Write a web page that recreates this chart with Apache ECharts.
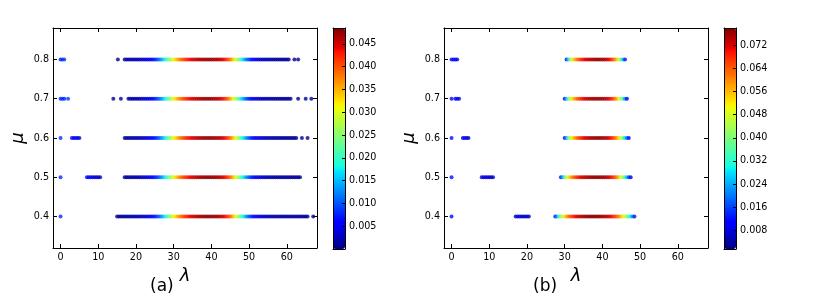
<!DOCTYPE html>
<html><head><meta charset="utf-8">
<script src="https://cdn.jsdelivr.net/npm/echarts@6/dist/echarts.min.js"></script>
<style>html,body{margin:0;padding:0;background:#fff}#c{width:817px;height:296px}</style>
</head><body><div id="c"></div><script>
// ---- tick labels ----
const LAMBDA_TICKS = [0, 10, 20, 30, 40, 50, 60];
const MU_TICKS = [0.4, 0.5, 0.6, 0.7, 0.8];
// colour-bar ticks, values in units of 1e-3
const CBAR_A_TICKS = [5, 10, 15, 20, 25, 30, 35, 40, 45];
const CBAR_B_TICKS = [8, 16, 24, 32, 40, 48, 56, 64, 72];
const CBAR_A_RANGE = [0, 48.5];
const CBAR_B_RANGE = [1.5, 78];
const STEP = 0.5; // lambda spacing of dense bands

// ---- panel (a) data: values in units of 1e-3 ----
const A_MU = [0.8, 0.7, 0.6, 0.5, 0.4];
const A_BAND_START = [17, 18, 17, 17, 15];
const A_BAND_08 = [1.3,1.4,1.5,1.6,1.8,1.9,2.1,2.3,2.5,2.8,3.1,3.5,4,4.6,5.3,6.2,7.3,8.6,10.2,12,14.2,16.6,19.3,22.2,25.2,28,30.6,33,35,36.8,38.4,39.8,41,42.1,43,43.8,44.5,45.1,45.6,46,46.4,46.7,46.9,47.1,47.2,47.2,47.2,47.1,46.9,46.6,46.2,45.6,44.8,43.7,42.3,40.6,38.5,36,33.1,29.9,26.5,23,19.6,16.4,13.6,11.2,9.2,7.6,6.3,5.3,4.5,3.9,3.4,3,2.7,2.4,2.2,2,1.8,1.7,1.6,1.5,1.4,1.3,1.2,1.2,1.1,1.1];
const A_BAND_07 = [1.5,1.6,1.8,1.9,2.1,2.3,2.5,2.8,3.1,3.5,4,4.6,5.3,6.1,7.1,8.3,9.8,11.6,13.7,16.1,18.8,21.7,24.7,27.6,30.3,32.8,34.9,36.8,38.4,39.8,41,42.1,43,43.8,44.5,45.1,45.6,46,46.4,46.7,47,47.2,47.3,47.3,47.2,47,46.7,46.3,45.7,44.9,43.9,42.6,40.9,38.9,36.4,33.6,30.4,27,23.5,20.1,16.9,14,11.5,9.5,7.8,6.5,5.4,4.6,3.9,3.4,3,2.7,2.4,2.2,2,1.8,1.7,1.6,1.5,1.4,1.3,1.2,1.2,1.1,1.1,1,1];
const A_BAND_06 = [1.2,1.3,1.4,1.5,1.7,1.8,2,2.2,2.4,2.7,3,3.4,3.9,4.5,5.2,6,7,8.2,9.7,11.5,13.6,16,18.7,21.6,24.6,27.5,30.2,32.7,34.9,36.8,38.5,39.9,41.1,42.2,43.1,43.9,44.6,45.2,45.7,46.1,46.5,46.8,47.1,47.3,47.4,47.4,47.3,47.2,47,46.7,46.3,45.7,44.9,43.9,42.6,41,39,36.6,33.8,30.7,27.4,24,20.7,17.6,14.8,12.3,10.2,8.4,7,5.9,5,4.3,3.7,3.3,2.9,2.6,2.4,2.2,2,1.9,1.8,1.7,1.6,1.5,1.4,1.3,1.3,1.2,1.2,1.1,1.1,1];
const A_BAND_05 = [1.1,1.2,1.3,1.4,1.6,1.7,1.9,2.1,2.3,2.6,2.9,3.3,3.8,4.4,5.1,5.9,6.9,8.1,9.6,11.4,13.5,15.9,18.6,21.5,24.5,27.4,30.1,32.6,34.8,36.7,38.4,39.9,41.1,42.2,43.1,43.9,44.6,45.2,45.8,46.3,46.7,47,47.3,47.5,47.6,47.6,47.5,47.4,47.2,46.9,46.5,45.9,45.1,44.1,42.8,41.2,39.2,36.8,34,30.9,27.6,24.2,20.9,17.8,15,12.5,10.4,8.6,7.2,6,5.1,4.4,3.8,3.3,2.9,2.6,2.4,2.2,2,1.9,1.8,1.7,1.6,1.5,1.4,1.4,1.3,1.3,1.2,1.2,1.1,1.1,1,1];
const A_BAND_04 = [0.9,1,1,1.1,1.2,1.3,1.4,1.5,1.6,1.8,2,2.2,2.4,2.7,3,3.4,3.9,4.5,5.2,6,7,8.2,9.7,11.5,13.6,16,18.7,21.6,24.6,27.5,30.2,32.7,34.9,36.8,38.5,40,41.3,42.4,43.3,44.1,44.8,45.4,45.9,46.4,46.8,47.1,47.4,47.6,47.7,47.7,47.6,47.5,47.3,47,46.6,46,45.2,44.2,42.9,41.3,39.3,36.9,34.1,31,27.7,24.3,21,17.9,15.1,12.6,10.5,8.7,7.3,6.1,5.2,4.5,3.9,3.4,3,2.7,2.4,2.2,2,1.9,1.8,1.7,1.6,1.5,1.4,1.4,1.3,1.3,1.2,1.2,1.1,1.1,1.1,1,1,1,0.9,0.9];
// isolated points [lambda, value]
const A_DOTS_08 = [[0,8],[0.5,8],[1,9],[15.2,1],[62,1],[63,1]];
const A_DOTS_07 = [[0,8],[0.5,8],[1,8],[2,9],[14,0.9],[16,1.1],[63,1],[65,0.9],[66.5,0.9]];
const A_DOTS_06 = [[0,8],[3,6],[3.5,5.5],[4,5],[4.5,4],[5,3.5],[64,1],[65.5,0.9]];
const A_DOTS_05 = [[0,8],[7,6],[7.5,5.5],[8,5],[8.5,4.5],[9,4],[9.5,3.5],[10,3.5],[10.5,3]];
const A_DOTS_04 = [[0,8],[67,0.9]];

// ---- panel (b) data: values in units of 1e-3 ----
const B_MU = [0.8, 0.7, 0.6, 0.5, 0.4];
const B_BAND_START = [30.5, 30, 30, 29, 27.5];
const B_BAND_08 = [12,28,40,49,55,59,62.5,65.5,68,70,71.5,72.8,73.8,74.6,75.2,75.6,75.9,76,75.9,75.6,75,74,72.5,70.5,68,64.5,60,54,46,36,25,13];
const B_BAND_07 = [11,25,37,46,52.5,57,61,64,66.5,68.8,70.6,72,73.2,74.2,75,75.6,76,76.2,76.2,76,75.6,75,74,72.6,70.8,68.5,65.5,61.5,56.5,50,42,32.5,22,11];
const B_BAND_06 = [11,24,36,45,51.5,56.5,60.5,63.8,66.5,68.8,70.7,72.2,73.4,74.4,75.2,75.8,76.2,76.4,76.4,76.2,75.8,75.2,74.3,73,71.2,69,66,62.5,58,52.5,45.5,37,28,19,10];
const B_BAND_05 = [12,24,35,44,51,56,60,63.3,66,68.3,70.2,71.8,73,74,74.9,75.6,76.1,76.5,76.7,76.8,76.7,76.5,76.1,75.5,74.6,73.4,71.8,69.8,67.2,64,60,55,49,42,34,25.5,17,9];
const B_BAND_04 = [12,22,32,40.5,47.5,53,57.5,61.2,64.3,66.8,69,70.8,72.3,73.5,74.5,75.3,76,76.5,76.9,77.2,77.3,77.3,77.2,77,76.6,76.1,75.4,74.5,73.4,72,70.3,68.3,66,63.2,60,56.3,52,47,41.5,35.5,29,21.5,13];
const B_DOTS_08 = [[0,12],[0.5,11],[1,10],[1.5,9]];
const B_DOTS_07 = [[0,12],[1,10],[1.5,9],[2,9]];
const B_DOTS_06 = [[0,12],[3,8],[3.5,8],[4,7.5],[4.5,7]];
const B_DOTS_05 = [[0,12],[8,8],[8.5,8],[9,7.5],[9.5,7],[10,7],[10.5,6.5],[11,6]];
const B_DOTS_04 = [[0,12],[17,8],[17.5,7.5],[18,7],[18.5,7],[19,6.5],[19.5,6.5],[20,6],[20.5,6]];

// ---- build series data ----
function band(mu, start, vals) { return vals.map((v, i) => [start + i * STEP, mu, v]); }
function dots(mu, pts) { return pts.map(p => [p[0], mu, p[1]]); }
const A_BANDS = [A_BAND_08, A_BAND_07, A_BAND_06, A_BAND_05, A_BAND_04];
const A_DOTS = [A_DOTS_08, A_DOTS_07, A_DOTS_06, A_DOTS_05, A_DOTS_04];
const B_BANDS = [B_BAND_08, B_BAND_07, B_BAND_06, B_BAND_05, B_BAND_04];
const B_DOTS = [B_DOTS_08, B_DOTS_07, B_DOTS_06, B_DOTS_05, B_DOTS_04];
let dataA = [], dataB = [];
A_MU.forEach((mu, k) => { dataA = dataA.concat(dots(mu, A_DOTS[k]), band(mu, A_BAND_START[k], A_BANDS[k])); });
B_MU.forEach((mu, k) => { dataB = dataB.concat(dots(mu, B_DOTS[k]), band(mu, B_BAND_START[k], B_BANDS[k])); });

// ---- jet colormap ----
function seg(t, pts) {
  for (let i = 1; i < pts.length; i++) {
    if (t <= pts[i][0]) { const a = pts[i-1], b = pts[i]; return a[1] + (b[1]-a[1]) * (t-a[0]) / (b[0]-a[0]); }
  }
  return pts[pts.length-1][1];
}
function jet(t) {
  const r = seg(t, [[0,0],[0.35,0],[0.66,1],[0.89,1],[1,0.5]]);
  const g = seg(t, [[0,0],[0.125,0],[0.375,1],[0.64,1],[0.91,0],[1,0]]);
  const b = seg(t, [[0,0.5],[0.11,1],[0.34,1],[0.65,0],[1,0]]);
  return 'rgb(' + Math.round(r*255) + ',' + Math.round(g*255) + ',' + Math.round(b*255) + ')';
}
const JET = []; for (let i = 0; i <= 100; i++) JET.push(jet(i / 100));

// ---- chart ----
const FONT = 'DejaVu Sans';
const TL = { fontFamily: FONT, fontSize: 9.6, color: '#000' };
const LINE = { show: true, onZero: false, lineStyle: { color: '#000', width: 1 } };

function xMain(grid, pos, labels, name) {
  return { type: 'value', gridIndex: grid, position: pos, min: -2, max: 68,
    axisLine: LINE, splitLine: { show: false },
    axisTick: { show: true, inside: true, length: 4, lineStyle: { color: '#000' }, customValues: LAMBDA_TICKS },
    axisLabel: Object.assign({ show: labels, margin: 4, customValues: LAMBDA_TICKS }, TL),
    name: name || '', nameLocation: 'middle', nameGap: 16,
    nameTextStyle: { fontFamily: FONT, fontSize: 18, fontStyle: 'italic', color: '#000' } };
}
function yMain(grid, pos, labels, name) {
  return { type: 'value', gridIndex: grid, position: pos, min: 0.32, max: 0.88,
    axisLine: LINE, splitLine: { show: false },
    axisTick: { show: true, inside: true, length: 4, lineStyle: { color: '#000' }, customValues: MU_TICKS },
    axisLabel: Object.assign({ show: labels, margin: 4, customValues: MU_TICKS, formatter: v => v.toFixed(1) }, TL),
    name: name || '', nameLocation: 'middle', nameGap: 26, nameRotate: 90,
    nameTextStyle: { fontFamily: FONT, fontSize: 18, fontStyle: 'italic', color: '#000' } };
}
function xBar(grid, pos) {
  return { type: 'value', gridIndex: grid, position: pos, min: 0, max: 1, z: 10,
    axisLine: LINE, axisTick: { show: false }, axisLabel: { show: false }, splitLine: { show: false } };
}
function yBar(grid, pos, range, ticks) {
  return { type: 'value', gridIndex: grid, position: pos, min: range[0], max: range[1], z: 10,
    axisLine: LINE, splitLine: { show: false },
    axisTick: { show: !!ticks, inside: true, length: 3, lineStyle: { color: '#000' }, customValues: ticks || [] },
    axisLabel: Object.assign({ show: !!ticks, margin: 4, customValues: ticks || [], formatter: v => (v / 1000).toFixed(3) }, TL) };
}

const chart = echarts.init(document.getElementById('c'), null, { renderer: 'canvas' });
chart.setOption({
  animation: false,
  backgroundColor: '#fff',
  grid: [
    { left: 53, top: 28, width: 264, height: 220 },
    { left: 444, top: 28, width: 264, height: 220 },
    { left: 333, top: 28, width: 12, height: 221 },
    { left: 724, top: 28, width: 12, height: 221 }
  ],
  xAxis: [
    xMain(0, 'bottom', true, 'λ'), xMain(0, 'top', false),
    xMain(1, 'bottom', true, 'λ'), xMain(1, 'top', false),
    xBar(2, 'bottom'), xBar(2, 'top'), xBar(3, 'bottom'), xBar(3, 'top')
  ],
  yAxis: [
    yMain(0, 'left', true, 'μ'), yMain(0, 'right', false),
    yMain(1, 'left', true, 'μ'), yMain(1, 'right', false),
    yBar(2, 'left', CBAR_A_RANGE), yBar(2, 'right', CBAR_A_RANGE, CBAR_A_TICKS),
    yBar(3, 'left', CBAR_B_RANGE), yBar(3, 'right', CBAR_B_RANGE, CBAR_B_TICKS)
  ],
  visualMap: [
    { type: 'continuous', seriesIndex: 0, dimension: 2, min: CBAR_A_RANGE[0], max: CBAR_A_RANGE[1],
      inRange: { color: JET }, show: true, calculable: false, hoverLink: false, padding: 0,
      left: 333, top: 28, itemWidth: 12, itemHeight: 221, text: null, showLabel: false },
    { type: 'continuous', seriesIndex: 1, dimension: 2, min: CBAR_B_RANGE[0], max: CBAR_B_RANGE[1],
      inRange: { color: JET }, show: true, calculable: false, hoverLink: false, padding: 0,
      left: 724, top: 28, itemWidth: 12, itemHeight: 221, text: null, showLabel: false }
  ],
  graphic: [
    { type: 'text', left: 150, top: 278, style: { text: '(a)', font: '17px "DejaVu Sans"', fill: '#000' } },
    { type: 'text', left: 533, top: 278, style: { text: '(b)', font: '17px "DejaVu Sans"', fill: '#000' } }
  ],
  series: [
    { type: 'scatter', xAxisIndex: 0, yAxisIndex: 0, data: dataA, symbol: 'circle', symbolSize: 4, silent: true },
    { type: 'scatter', xAxisIndex: 2, yAxisIndex: 2, data: dataB, symbol: 'circle', symbolSize: 4, silent: true }
  ]
});
</script></body></html>
